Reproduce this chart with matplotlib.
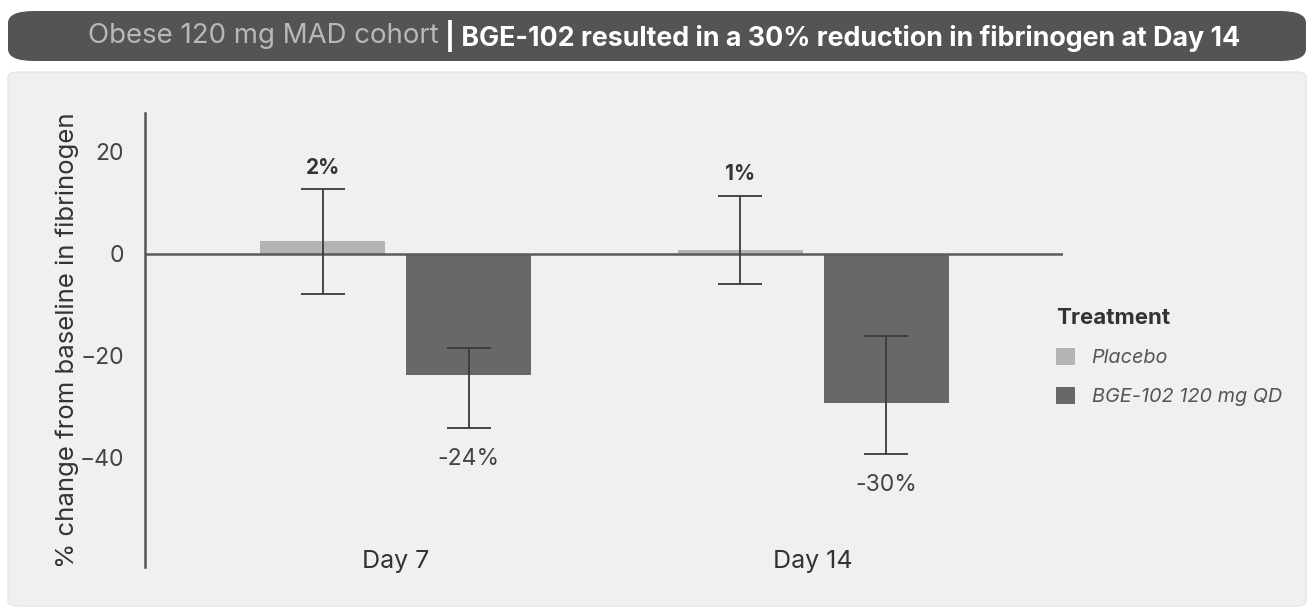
import matplotlib
matplotlib.use('Agg')
import matplotlib.pyplot as plt
from matplotlib.patches import FancyBboxPatch, Patch
import matplotlib.transforms as mtransforms
import numpy as np

plt.rcParams['font.family'] = ['Inter', 'DejaVu Sans']

days = ['Day 7', 'Day 14']
treatments = ['Placebo', 'BGE-102 120 mg QD']
placebo = [2.5, 0.8]
placebo_lo = [-7.8, -5.9]
placebo_hi = [12.7, 11.4]
bge = [-23.7, -29.2]
bge_lo = [-34.1, -39.2]
bge_hi = [-18.4, -16.1]
placebo_labels = ['2%', '1%']
bge_labels = ['-24%', '-30%']

c_placebo = '#b4b4b4'
c_bge = '#68686a'
c_text = '#333333'

fig = plt.figure(figsize=(13.14, 6.09), dpi=100)
fig.patch.set_facecolor('white')

# header bar and panel (behind the axes)
fig.patches.append(FancyBboxPatch((8 / 1314, 1 - 61 / 609), 1298 / 1314, 50 / 609,
                                  boxstyle='round,pad=0,rounding_size=0.02',
                                  transform=fig.transFigure, facecolor='#545456',
                                  edgecolor='none', mutation_aspect=609 / 1314 * 2.1,
                                  zorder=-10))
fig.patches.append(FancyBboxPatch((8 / 1314, 1 - 606 / 609), 1298 / 1314, 534 / 609,
                                  boxstyle='round,pad=0,rounding_size=0.008',
                                  transform=fig.transFigure, facecolor='#f0f0f0',
                                  edgecolor='#e6e6e6', linewidth=1, zorder=-10))

fig.text(439 / 1314, 1 - 36 / 609, 'Obese 120 mg MAD cohort', color='#b8b8b8',
         fontsize=19.9, ha='right', va='center')
fig.text(445 / 1314, 1 - 36 / 609, '| BGE-102 resulted in a 30% reduction in fibrinogen at Day 14',
         color='white', fontsize=19.3, fontweight='bold', ha='left', va='center')

ax = fig.add_axes([145 / 1314, 1 - 567 / 609, 918 / 1314, 454 / 609])
ax.set_facecolor('none')

x = np.arange(len(days))
w = 0.30
off = 0.175
ax.bar(x - off, placebo, w, color=c_placebo, zorder=2)
ax.bar(x + off, bge, w, color=c_bge, zorder=2)

for xs, v, lo, hi in [(x - off, placebo, placebo_lo, placebo_hi), (x + off, bge, bge_lo, bge_hi)]:
    v = np.array(v)
    ax.errorbar(xs, v, yerr=[v - np.array(lo), np.array(hi) - v], fmt='none',
                ecolor='#3a3a3a', elinewidth=1.3, capsize=16, capthick=1.3, zorder=4)

ax.axhline(0, color='#5a5a5a', lw=1.8, zorder=3)

for i in range(len(days)):
    ax.text(x[i] - off, placebo_hi[i] + 2.2, placebo_labels[i], ha='center', va='bottom',
            fontsize=15, fontweight='bold', color=c_text)
    ax.text(x[i] + off, bge_lo[i] - 3.9, bge_labels[i], ha='center', va='top',
            fontsize=16.5, color='#444444')

trans = mtransforms.blended_transform_factory(ax.transData, ax.transAxes)
for i, d in enumerate(days):
    ax.text(x[i], 0.012, d, transform=trans, ha='center', va='center', fontsize=18, color=c_text)

ax.set_xlim(-0.6, 1.598)
ax.set_ylim(-61.4, 27.6)
ax.set_xticks([])
ax.set_yticks([20, 0, -20, -40])
ax.tick_params(axis='y', length=0, pad=15, labelsize=16.5, labelcolor='#444444')
for s in ['top', 'right', 'bottom']:
    ax.spines[s].set_visible(False)
ax.spines['left'].set_color('#555555')
ax.spines['left'].set_linewidth(1.8)
ax.set_ylabel('% change from baseline in fibrinogen', fontsize=18.5, color=c_text)
ax.yaxis.set_label_coords((79 - 145) / 918, 0.5)

handles = [Patch(facecolor=c_placebo), Patch(facecolor=c_bge)]
leg = fig.legend(handles, treatments, title='Treatment', loc='upper left',
                 bbox_to_anchor=(1038 / 1314, 1 - 290 / 609), frameon=False,
                 prop={'size': 14.3, 'style': 'italic'}, labelcolor='#555555',
                 handlelength=0.95, handleheight=0.95, handletextpad=0.85, labelspacing=1.0)
leg.get_title().set_fontweight('bold')
leg.get_title().set_fontsize(16)
leg.get_title().set_color(c_text)
leg._legend_box.align = 'left'

fig.savefig('out.png', dpi=100, facecolor='white')
